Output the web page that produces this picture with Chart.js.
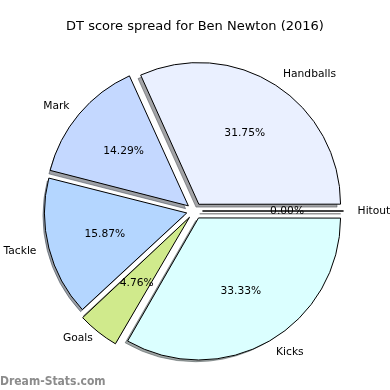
<!DOCTYPE html>
<html>
<head>
<meta charset="utf-8">
<script src="https://cdn.jsdelivr.net/npm/chart.js@4"></script>
<style>
  html, body { margin: 0; padding: 0; background: #fff; }
  #wrap { width: 390px; height: 390px; }
</style>
</head>
<body>
<div id="wrap"><canvas id="pie"></canvas></div>
<script>
// data, in clockwise order starting at 3 o'clock
const categories = ['Hitout', 'Kicks', 'Goals', 'Tackle', 'Mark', 'Handballs'];
const counts = [0, 21, 3, 10, 9, 20];
const sliceColors = ['#ffffff', '#dbffff', '#d0ea8c', '#b4d6ff', '#c4d8ff', '#eaf0ff'];
const chartTitle = 'DT score spread for Ben Newton (2016)';
const watermark = 'Dream-Stats.com';

const EXPLODE = 8;     // px each slice is pulled out
const SHADOW = 2.8;    // shadow shift, down-left
const FONT = "'DejaVu Sans', sans-serif";

function shadowColor(hex) {
  const n = parseInt(hex.slice(1), 16);
  const r = (n >> 16) & 255, g = (n >> 8) & 255, b = n & 255;
  return `rgba(${Math.round(r * 0.3)},${Math.round(g * 0.3)},${Math.round(b * 0.3)},0.5)`;
}

function centreOf(arc) {
  const mid = (arc.startAngle + arc.endAngle) / 2;
  return {
    mid: mid,
    cx: arc.x + Math.cos(mid) * EXPLODE,
    cy: arc.y + Math.sin(mid) * EXPLODE
  };
}

function wedgePath(ctx, arc, dx, dy) {
  const c = centreOf(arc);
  ctx.beginPath();
  ctx.moveTo(c.cx + dx, c.cy + dy);
  ctx.arc(c.cx + dx, c.cy + dy, arc.outerRadius, arc.startAngle, arc.endAngle);
  ctx.closePath();
}

const pieExtras = {
  id: 'pieExtras',
  beforeDatasetsDraw(chart) {
    const ctx = chart.ctx;
    const arcs = chart.getDatasetMeta(0).data;
    ctx.save();
    arcs.forEach((arc, i) => {
      const col = shadowColor(sliceColors[i]);
      wedgePath(ctx, arc, -SHADOW, SHADOW);
      ctx.fillStyle = col;
      ctx.strokeStyle = col;
      ctx.lineWidth = 1;
      ctx.fill();
      ctx.stroke();
    });
    ctx.restore();
  },
  afterDatasetsDraw(chart) {
    const ctx = chart.ctx;
    const arcs = chart.getDatasetMeta(0).data;
    const total = counts.reduce((a, b) => a + b, 0);
    ctx.save();
    // zero-size slices are skipped by Chart.js, draw their edge line
    arcs.forEach((arc, i) => {
      if (counts[i] === 0) {
        wedgePath(ctx, arc, 0, 0);
        ctx.strokeStyle = '#000';
        ctx.lineWidth = 1;
        ctx.stroke();
      }
    });
    ctx.fillStyle = '#000';
    ctx.font = '10.7px ' + FONT;
    ctx.textBaseline = 'middle';
    arcs.forEach((arc, i) => {
      const c = centreOf(arc);
      const r = arc.outerRadius;
      const cos = Math.cos(c.mid), sin = Math.sin(c.mid);
      ctx.textAlign = 'center';
      const pct = (counts[i] / total * 100).toFixed(2) + '%';
      ctx.fillText(pct, c.cx + cos * r * 0.6, c.cy + sin * r * 0.6);
      ctx.textAlign = cos >= 0 ? 'left' : 'right';
      ctx.fillText(categories[i], c.cx + cos * r * 1.1, c.cy + sin * r * 1.1);
    });
    // title + watermark
    ctx.textAlign = 'center';
    ctx.font = '13px ' + FONT;
    ctx.fillText(chartTitle, 195, 26.5);
    ctx.textAlign = 'left';
    ctx.textBaseline = 'alphabetic';
    ctx.font = "bold 12px 'DejaVu Sans Condensed', 'DejaVu Sans', sans-serif";
    ctx.fillStyle = '#8c8c8c';
    ctx.fillText(watermark, 0, 385);
    ctx.restore();
  }
};

new Chart(document.getElementById('pie'), {
  type: 'pie',
  data: {
    labels: categories,
    datasets: [{
      data: counts,
      backgroundColor: sliceColors,
      borderColor: '#000',
      borderWidth: 1,
      borderJoinStyle: 'miter',
      offset: EXPLODE * 4
    }]
  },
  options: {
    responsive: true,
    maintainAspectRatio: false,
    animation: false,
    rotation: 90,
    radius: 141,
    layout: { padding: { left: 43, right: 44, top: 58, bottom: 26 } },
    plugins: {
      legend: { display: false },
      tooltip: { enabled: false },
      title: { display: false }
    }
  },
  plugins: [pieExtras]
});
</script>
</body>
</html>
